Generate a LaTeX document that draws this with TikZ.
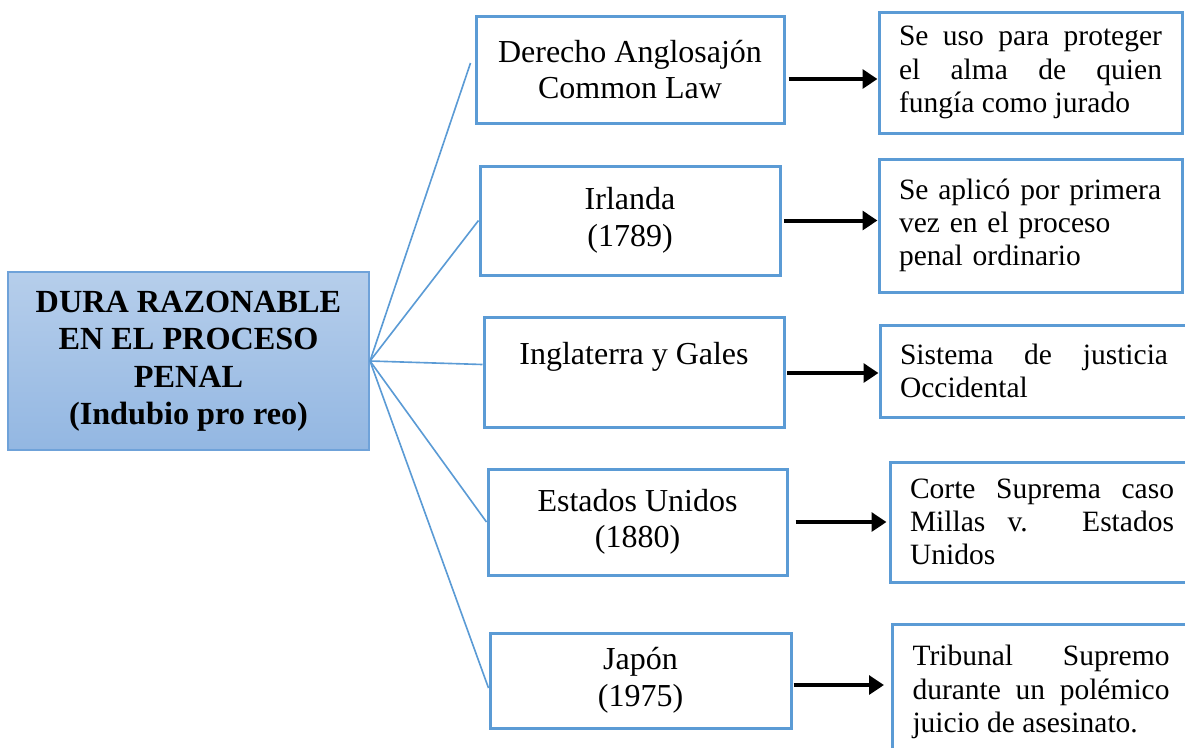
\documentclass[tikz,border=0pt]{standalone}
\usepackage{fontspec}
\setmainfont{Liberation Serif}
\usetikzlibrary{arrows.meta}
\definecolor{borde}{HTML}{5B9BD5}
\definecolor{bordeclaro}{HTML}{6FA2D9}
\definecolor{azularriba}{HTML}{B6CEEB}
\definecolor{azulabajo}{HTML}{93B7E2}
\begin{document}
\begin{tikzpicture}[x=0.4pt, y=-0.4pt,
        main/.style = {draw=bordeclaro, line width=0.8pt, top color=azularriba, bottom color=azulabajo, align=center, inner sep=0pt, minimum width=144.4pt, minimum height=71.2pt, font=\fontsize{12.9}{15}\selectfont\bfseries},
        pais/.style = {draw=borde, line width=1.2pt, align=center, inner sep=0pt, font=\fontsize{12.8}{14.6}\selectfont},
        dato/.style = {draw=borde, line width=1.2pt, align=justify, inner xsep=8pt, inner ysep=0pt, font=\fontsize{11.8}{13.3}\selectfont},
        rama/.style = {draw=borde, line width=0.65pt},
        flecha/.style = {draw=black, line width=1.6pt, -{Triangle[length=6pt,width=7.5pt]}}]
        \useasboundingbox (0,0) rectangle (1185,747);
        \node[main] (dura) at (188.5,361) {DURA RAZONABLE\\EN EL PROCESO\\PENAL\\(Indubio pro reo)};
        \node[pais, minimum width=123.2pt, minimum height=42.8pt] (ang) at (630,69.5) {Derecho Anglosajón\\Common Law};
        \node[pais, minimum width=120pt, minimum height=43.6pt] (irl) at (630,220.5) {Irlanda\\(1789)};
        \node[pais, minimum width=120pt, minimum height=44pt] (ing) at (634,372) {Inglaterra y Gales\\ \mbox{}};
        \node[pais, minimum width=119.6pt, minimum height=42.4pt] (usa) at (637.5,522) {Estados Unidos\\(1880)};
        \node[pais, minimum width=120.4pt, minimum height=38pt] (jap) at (640.5,680.5) {Japón\\(1975)};
        \node[dato, text width=105.2pt, minimum height=48.4pt] (angd) at (1030.5,72.5) {Se uso para proteger\linebreak el alma de quien\linebreak fungía como jurado};
        \node[dato, text width=105.2pt, minimum height=53.2pt, align=left] (irld) at (1030.5,225.5) {Se aplicó por primera\\vez en el proceso\\penal ordinario};
        \node[dato, text width=107.2pt, minimum height=36.8pt] (ingd) at (1034,371) {Sistema de justicia\linebreak Occidental};
        \node[dato, text width=105.6pt, minimum height=48pt] (usad) at (1042,522) {Corte Suprema caso\linebreak Millas v. Estados\linebreak Unidos};
        \node[dato, text width=102.8pt, minimum height=54.4pt] (japd) at (1041,692) {Tribunal Supremo\linebreak durante un polémico\linebreak juicio de asesinato.};
        % ramas
        \draw[rama] (dura.east) -- ([xshift=-1.6pt,yshift=2.6pt]ang.west);
        \draw[rama] (dura.east) -- (irl.west);
        \draw[rama] (dura.east) -- ([yshift=3pt]ing.west);
        \draw[rama] (dura.east) -- (usa.west);
        \draw[rama] (dura.east) -- ([yshift=-3pt]jap.west);
        % flechas
        \draw[flecha] ([xshift=1.2pt,yshift=-3.8pt]ang.east) -- ([yshift=-3.8pt]ang.east -| angd.west);
        \draw[flecha] ([xshift=1pt]irl.east) -- (irl.east -| irld.west);
        \draw[flecha] ([xshift=0.6pt,yshift=-0.4pt]ing.east) -- ([yshift=-0.4pt]ing.east -| ingd.west);
        \draw[flecha, shorten >=0.8pt] ([xshift=2.8pt]usa.east) -- (usa.east -| usad.west);
        \draw[flecha, shorten >=2.8pt] ([xshift=0.4pt,yshift=-1.8pt]jap.east) -- ([yshift=-1.8pt]jap.east -| japd.west);
\end{tikzpicture}
\end{document}
